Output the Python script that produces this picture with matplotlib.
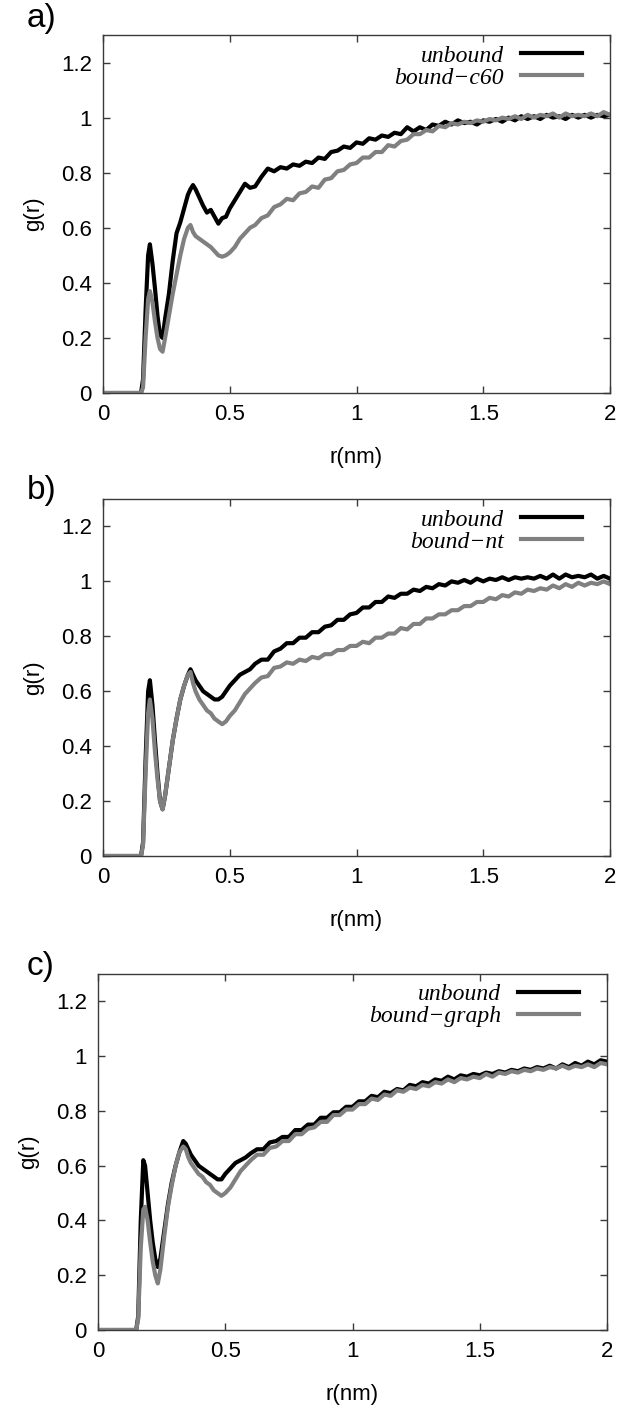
import numpy as np
import matplotlib
matplotlib.use("Agg")
import matplotlib.pyplot as plt

# ---------------- data ----------------
r_head = [0, 0.15, 0.158, 0.168, 0.178, 0.185, 0.195, 0.205, 0.215, 0.225, 0.235,
          0.245, 0.26, 0.275, 0.29, 0.305, 0.32, 0.335, 0.345, 0.355, 0.365, 0.38,
          0.395, 0.41, 0.425, 0.44, 0.455, 0.47, 0.485, 0.5, 0.52, 0.54, 0.56, 0.58]
r_tail = list(np.round(np.arange(0.6, 2.0001, 0.025), 3))
r_vals = r_head + r_tail

a_unbound = [0, 0, 0.05, 0.3, 0.5, 0.54, 0.47, 0.38, 0.28, 0.21, 0.2, 0.27, 0.36, 0.48,
             0.58, 0.62, 0.67, 0.72, 0.74, 0.755, 0.74, 0.71, 0.68, 0.655, 0.665, 0.64,
             0.615, 0.635, 0.64, 0.67, 0.7, 0.73, 0.76, 0.745,
             0.75, 0.785, 0.815, 0.805, 0.82, 0.815, 0.83, 0.825, 0.84, 0.835, 0.855, 0.85,
             0.875, 0.88, 0.895, 0.89, 0.91, 0.905, 0.925, 0.92, 0.935, 0.93, 0.945, 0.94,
             0.965, 0.95, 0.965, 0.955, 0.975, 0.97, 0.985, 0.975, 0.99, 0.98, 0.985, 0.975,
             0.99, 0.985, 0.995, 0.985, 1.0, 0.99, 1.005, 0.995, 1.005, 0.995, 1.01, 1.0,
             1.005, 0.995, 1.01, 1.0, 1.01, 1.0, 1.01, 1.005, 1.01]
a_bound = [0, 0, 0.02, 0.2, 0.34, 0.37, 0.33, 0.26, 0.2, 0.16, 0.15, 0.2, 0.28, 0.36,
           0.43, 0.5, 0.56, 0.6, 0.61, 0.585, 0.57, 0.56, 0.55, 0.54, 0.53, 0.515, 0.5,
           0.495, 0.5, 0.51, 0.53, 0.56, 0.58, 0.6,
           0.61, 0.635, 0.645, 0.675, 0.685, 0.705, 0.7, 0.725, 0.73, 0.75, 0.745, 0.775,
           0.78, 0.805, 0.81, 0.83, 0.835, 0.855, 0.855, 0.875, 0.875, 0.9, 0.895, 0.915,
           0.92, 0.94, 0.94, 0.955, 0.95, 0.97, 0.965, 0.98, 0.975, 0.985, 0.98, 0.99,
           0.985, 0.995, 0.99, 1.0, 0.995, 1.005, 0.995, 1.01, 1.0, 1.01, 1.005, 1.015,
           1.0, 1.015, 1.005, 1.01, 1.005, 1.015, 1.005, 1.02, 1.01]

b_unbound = [0, 0, 0.05, 0.35, 0.6, 0.64, 0.55, 0.42, 0.3, 0.2, 0.17, 0.22, 0.32, 0.42,
             0.5, 0.57, 0.62, 0.66, 0.68, 0.66, 0.64, 0.62, 0.6, 0.59, 0.58, 0.57, 0.57,
             0.58, 0.6, 0.62, 0.64, 0.66, 0.67, 0.68,
             0.7, 0.715, 0.715, 0.745, 0.755, 0.775, 0.775, 0.795, 0.795, 0.815, 0.815,
             0.835, 0.84, 0.86, 0.86, 0.88, 0.885, 0.905, 0.905, 0.925, 0.925, 0.945,
             0.94, 0.955, 0.955, 0.97, 0.965, 0.98, 0.975, 0.99, 0.985, 1.0, 0.995, 1.005,
             0.995, 1.01, 1.0, 1.01, 1.005, 1.015, 1.005, 1.015, 1.01, 1.015, 1.01, 1.02,
             1.01, 1.025, 1.01, 1.025, 1.015, 1.02, 1.015, 1.025, 1.01, 1.02, 1.01]
b_bound = [0, 0, 0.04, 0.3, 0.52, 0.57, 0.5, 0.38, 0.28, 0.2, 0.17, 0.22, 0.32, 0.42,
           0.5, 0.57, 0.62, 0.66, 0.67, 0.63, 0.6, 0.57, 0.55, 0.53, 0.52, 0.5, 0.49,
           0.48, 0.49, 0.51, 0.53, 0.56, 0.59, 0.61,
           0.63, 0.65, 0.655, 0.685, 0.69, 0.705, 0.7, 0.715, 0.71, 0.725, 0.72, 0.735,
           0.735, 0.75, 0.75, 0.765, 0.765, 0.78, 0.775, 0.795, 0.795, 0.81, 0.81, 0.83,
           0.825, 0.845, 0.845, 0.865, 0.865, 0.88, 0.88, 0.895, 0.895, 0.91, 0.91, 0.925,
           0.925, 0.94, 0.935, 0.95, 0.945, 0.96, 0.955, 0.97, 0.965, 0.975, 0.97, 0.985,
           0.975, 0.99, 0.98, 0.995, 0.985, 0.995, 0.99, 1.0, 0.99]

c_unbound = [0, 0, 0.05, 0.4, 0.62, 0.6, 0.5, 0.4, 0.32, 0.26, 0.23, 0.26, 0.36, 0.46,
             0.54, 0.6, 0.65, 0.69, 0.68, 0.66, 0.64, 0.62, 0.6, 0.59, 0.58, 0.57, 0.56,
             0.55, 0.55, 0.57, 0.59, 0.61, 0.62, 0.63,
             0.645, 0.66, 0.66, 0.685, 0.69, 0.705, 0.705, 0.73, 0.73, 0.75, 0.75, 0.775,
             0.775, 0.795, 0.795, 0.815, 0.815, 0.835, 0.835, 0.855, 0.85, 0.87, 0.865,
             0.88, 0.875, 0.895, 0.89, 0.905, 0.9, 0.915, 0.91, 0.925, 0.915, 0.93, 0.925,
             0.935, 0.93, 0.94, 0.935, 0.945, 0.94, 0.95, 0.945, 0.955, 0.95, 0.96, 0.955,
             0.965, 0.955, 0.97, 0.96, 0.975, 0.965, 0.98, 0.97, 0.985, 0.98]
c_bound = [0, 0, 0.04, 0.3, 0.44, 0.45, 0.4, 0.32, 0.25, 0.2, 0.17, 0.22, 0.34, 0.45,
           0.53, 0.6, 0.65, 0.67, 0.66, 0.63, 0.61, 0.59, 0.57, 0.56, 0.54, 0.53, 0.51,
           0.5, 0.49, 0.5, 0.52, 0.55, 0.58, 0.6,
           0.62, 0.64, 0.64, 0.665, 0.67, 0.69, 0.69, 0.715, 0.715, 0.735, 0.74, 0.76,
           0.76, 0.785, 0.785, 0.805, 0.805, 0.825, 0.825, 0.845, 0.84, 0.86, 0.855,
           0.875, 0.87, 0.885, 0.88, 0.895, 0.89, 0.905, 0.9, 0.915, 0.905, 0.92, 0.915,
           0.925, 0.92, 0.935, 0.925, 0.94, 0.935, 0.945, 0.94, 0.95, 0.945, 0.955, 0.95,
           0.96, 0.955, 0.965, 0.955, 0.965, 0.96, 0.97, 0.96, 0.975, 0.97]

panel_letters = ["a)", "b)", "c)"]
bound_labels = ["bound\u2212c60", "bound\u2212nt", "bound\u2212graph"]
x_ticks = [0, 0.5, 1, 1.5, 2]
x_ticklabels = ["0", "0.5", "1", "1.5", "2"]
y_ticks = [0, 0.2, 0.4, 0.6, 0.8, 1, 1.2]
y_ticklabels = ["0", "0.2", "0.4", "0.6", "0.8", "1", "1.2"]

unbound_series = [a_unbound, b_unbound, c_unbound]
bound_series = [a_bound, b_bound, c_bound]
for s in unbound_series + bound_series:
    assert len(s) == len(r_vals), (len(s), len(r_vals))

# ---------------- figure ----------------
W, H = 622, 1406
fig = plt.figure(figsize=(W / 100, H / 100), dpi=100)
plt.rcParams["font.family"] = ["Liberation Sans", "DejaVu Sans"]

# axes boxes in pixels: (left, top, right, bottom)
boxes = [(103, 35, 610, 393), (103, 499, 610, 856), (98, 974, 607, 1330)]
letter_y = [19, 491, 966]

spine_col = "#3a3a3a"
for i, (l, t, rr, b) in enumerate(boxes):
    ax = fig.add_axes([l / W, 1 - b / H, (rr - l) / W, (b - t) / H])
    ax.plot(r_vals, unbound_series[i], color="black", lw=3.0, label="unbound")
    ax.plot(r_vals, bound_series[i], color="#808080", lw=3.0, label=bound_labels[i])
    ax.set_xlim(0, 2)
    ax.set_ylim(0, 1.3)
    ax.set_xticks(x_ticks)
    ax.set_xticklabels(x_ticklabels)
    ax.set_yticks(y_ticks)
    ax.set_yticklabels(y_ticklabels)
    ax.tick_params(direction="in", length=5, width=1, color=spine_col,
                   top=True, right=True, labelsize=16, pad=8)
    for sp in ax.spines.values():
        sp.set_color(spine_col)
        sp.set_linewidth(1.0)
    ax.set_xlabel("r(nm)", fontsize=16, labelpad=16)
    ax.set_ylabel("g(r)", fontsize=16, labelpad=12)
    ax.legend(loc="upper right", bbox_to_anchor=(0.945, 0.972),
              frameon=False, markerfirst=False, handlelength=2.6,
              handletextpad=0.7, labelspacing=0.02, borderpad=0,
              borderaxespad=0,
              prop={"family": "Liberation Serif", "style": "italic", "size": 17})
    fig.text(27 / W, 1 - letter_y[i] / H, panel_letters[i], fontsize=24,
             ha="left", va="center")

fig.savefig("out.png", dpi=100)
